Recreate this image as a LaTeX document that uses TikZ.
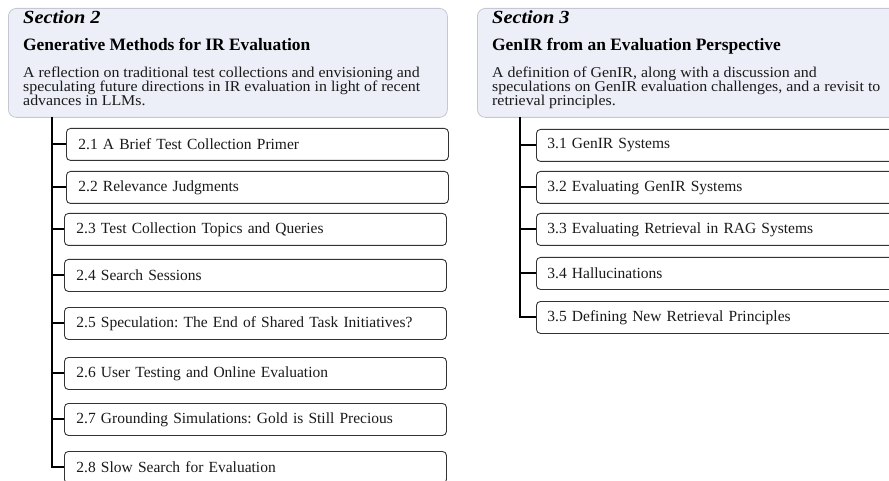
\documentclass[tikz,border=0pt]{standalone}
\usepackage{fontspec}
\setmainfont{Liberation Serif}
\newfontfamily\dscfont{Liberation Serif}[FakeStretch=1.06]
\newfontfamily\labfont{Liberation Serif}[FakeStretch=1.1]
\definecolor{secfill}{HTML}{ECEEF8}
\definecolor{secborder}{HTML}{C5C8D4}
\definecolor{itemborder}{HTML}{333333}
\definecolor{txt}{HTML}{1A1A1A}
\begin{document}
\frenchspacing
\begin{tikzpicture}[x=1pt,y=-1pt,
  secbox/.style={draw=secborder, fill=secfill, rounded corners=8pt, line width=0.8pt, anchor=north west, minimum height=109pt, inner sep=0pt},
  itembox/.style={draw=itemborder, fill=white, rounded corners=4pt, line width=0.9pt, anchor=north west, minimum width=382pt, minimum height=32pt, text width=358pt, inner xsep=12pt, inner ysep=0pt, align=left, text=txt, font=\fontsize{15.5}{18}\selectfont},
  ritembox/.style={itembox, minimum width=400pt, text width=378pt, inner xsep=11pt},
  lab/.style={anchor=base west, inner sep=0pt, text=black, font=\labfont\fontsize{18.5}{20}\selectfont\bfseries\itshape},
  ttl/.style={anchor=base west, inner sep=0pt, text=black, font=\fontsize{17.4}{20}\selectfont\bfseries},
  dsc/.style={anchor=base west, inner sep=0pt, text=txt, font=\dscfont\fontsize{15}{14}\selectfont},
  conn/.style={line width=2pt, black}]
\useasboundingbox (0,0) rectangle (889,481);
\clip (0,0) rectangle (889,481);

% Section 2
\node[secbox, minimum width=439pt] (s2) at (8,8) {};
\node[lab] (s2l) at (23,24) {Section 2};
\node[ttl] (s2t) at (23,51) {Generative Methods for IR Evaluation};
\node[dsc] (s2d1) at (23,78) {A reflection on traditional test collections and envisioning and};
\node[dsc] (s2d2) at (23,92) {speculating future directions in IR evaluation in light of recent};
\node[dsc] (s2d3) at (23,106) {advances in LLMs.};

% Section 3
\node[secbox, minimum width=450pt] (s3) at (477,8) {};
\node[lab] (s3l) at (492,24) {Section 3};
\node[ttl] (s3t) at (492,51) {GenIR from an Evaluation Perspective};
\node[dsc] (s3d1) at (492,78) {A definition of GenIR, along with a discussion and};
\node[dsc] (s3d2) at (492,92) {speculations on GenIR evaluation challenges, and a revisit to};
\node[dsc] (s3d3) at (492,106) {retrieval principles.};

% Section 2 items
\node[itembox] (a1) at (66,128) {2.1 A Brief Test Collection Primer};
\node[itembox] (a2) at (66,171) {2.2 Relevance Judgments};
\node[itembox] (a3) at (64,213) {2.3 Test Collection Topics and Queries};
\node[itembox] (a4) at (64,259) {2.4 Search Sessions};
\node[itembox] (a5) at (64,307) {2.5 Speculation: The End of Shared Task Initiatives?};
\node[itembox] (a6) at (64,357) {2.6 User Testing and Online Evaluation};
\node[itembox] (a7) at (64,403) {2.7 Grounding Simulations: Gold is Still Precious};
\node[itembox] (a8) at (64,451) {2.8 Slow Search for Evaluation};

% Section 3 items
\node[ritembox] (b1) at (536,129) {3.1 GenIR Systems};
\node[ritembox] (b2) at (536,171) {3.2 Evaluating GenIR Systems};
\node[ritembox] (b3) at (536,213) {3.3 Evaluating Retrieval in RAG Systems};
\node[ritembox] (b4) at (536,257) {3.4 Hallucinations};
\node[ritembox] (b5) at (536,301) {3.5 Defining New Retrieval Principles};

% Connectors
\coordinate (t2) at (52,117);
\coordinate (t3) at (520,117);
\draw[conn] (t2) |- (a8.west);
\foreach \n in {a1,a2,a3,a4,a5,a6,a7}{\draw[conn] (t2 |- \n.west) -- (\n.west);}
\draw[conn] (t3) |- (b5.west);
\foreach \n in {b1,b2,b3,b4}{\draw[conn] (t3 |- \n.west) -- (\n.west);}
\end{tikzpicture}
\end{document}
